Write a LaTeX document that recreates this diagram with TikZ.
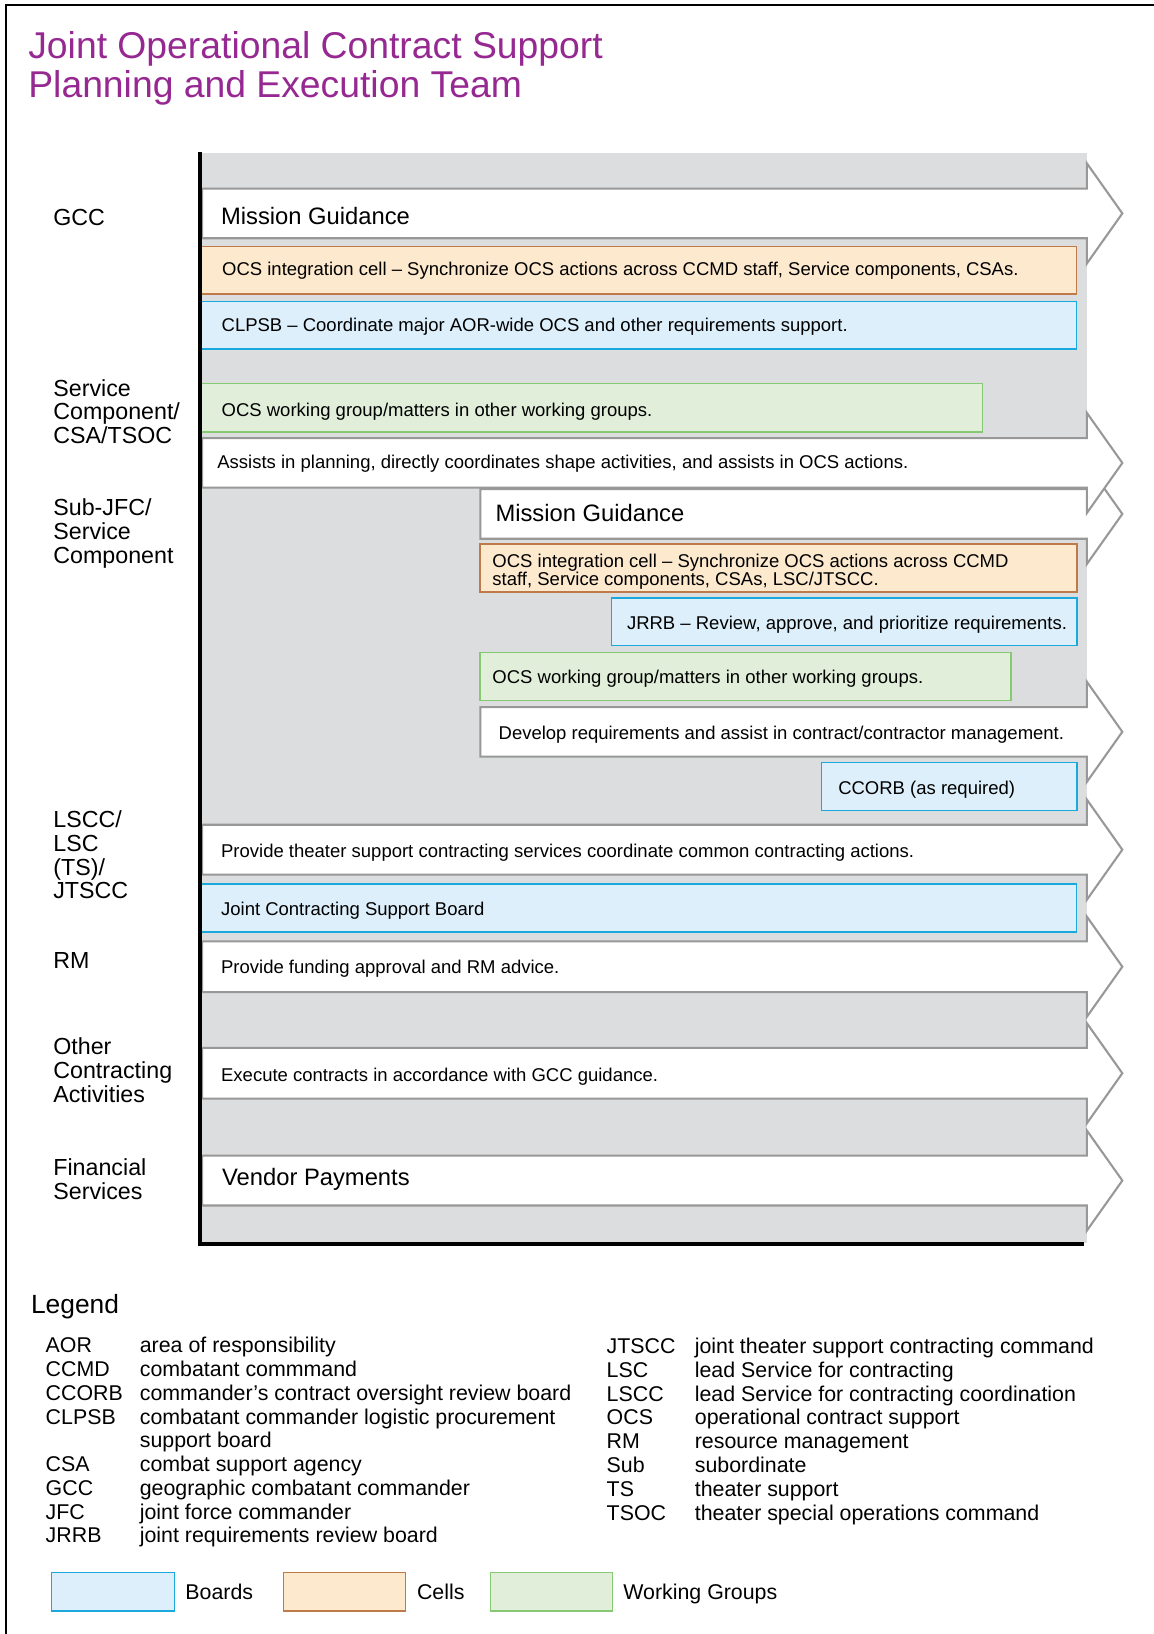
\documentclass[tikz,border=0pt]{standalone}
\usepackage{fontspec}
\setmainfont{Liberation Sans}
\definecolor{titlepurple}{RGB}{150,40,145}
\definecolor{regiongray}{RGB}{220,221,223}
\definecolor{bandline}{RGB}{152,152,152}
\definecolor{cellfill}{RGB}{253,233,206}
\definecolor{cellline}{RGB}{190,122,72}
\definecolor{boardfill}{RGB}{220,239,250}
\definecolor{boardline}{RGB}{27,168,220}
\definecolor{wgfill}{RGB}{225,239,218}
\definecolor{wgline}{RGB}{135,200,115}

% white block arrow: left x, top y, bottom y
\newcommand\bandarrow[3]{%
  \filldraw[band] (#1,#2) -- (1043,#2) -- (1043,{(#2+#3)/2-48}) -- (1077,{(#2+#3)/2})
    -- (1043,{(#2+#3)/2+48}) -- (1043,#3) -- (#1,#3) -- cycle;}

\begin{document}
\begin{tikzpicture}[x=1pt,y=-1pt,
  band/.style={fill=white,draw=bandline,line width=2pt,line join=miter},
  cellbox/.style={fill=cellfill,draw=cellline,line width=1.3pt},
  boardbox/.style={fill=boardfill,draw=boardline,line width=1.3pt},
  wgbox/.style={fill=wgfill,draw=wgline,line width=1.3pt},
  txt/.style={anchor=base west,inner sep=0,font=\fontsize{17.75}{16.3}\selectfont},
  bigtxt/.style={anchor=base west,inner sep=0,font=\fontsize{22.8}{24}\selectfont},
  lab/.style={anchor=north west,inner sep=0,align=left,font=\fontsize{22.3}{22.8}\selectfont},
  labone/.style={anchor=base west,inner sep=0,font=\fontsize{22.3}{22.8}\selectfont},
  titletxt/.style={anchor=base west,inner sep=0,text=titlepurple,font=\fontsize{35.8}{38}\selectfont},
  legtxt/.style={anchor=base west,inner sep=0,font=\fontsize{20.5}{22.8}\selectfont},
]
\useasboundingbox (0,0) rectangle (1107,1568);

% outer frame (top and left edges)
\draw[line width=2.7pt] (5.8,1575) -- (5.8,4.8) -- (1112,4.8);

% title
\node[titletxt] (title1) at (27,56) {Joint Operational Contract Support};
\node[titletxt] (title2) at (27,94) {Planning and Execution Team};

% gray region behind the swim lanes
\fill[regiongray] (193,147) rectangle (1043,1193);

% white lanes, drawn from the bottom up so upper arrow heads overlap lower ones
\bandarrow{194}{1108.9}{1156.8}
\bandarrow{194}{1005.6}{1054.2}
\bandarrow{194}{903.3}{952}
\bandarrow{194}{791.4}{839.3}
\bandarrow{461}{678.5}{726}
\bandarrow{461}{469.4}{517}
\bandarrow{194}{420.5}{468}
\bandarrow{194}{181}{228.6}

% boards, cells and working groups
\draw[cellbox]  (193.5,236.6) rectangle (1033,282);
\draw[boardbox] (193.5,289.4) rectangle (1033,335);
\draw[wgbox]    (193.5,368.3) rectangle (942.5,414.7);
\draw[cellbox]  (460.5,522) rectangle (1033.5,568);
\draw[boardbox] (587,574) rectangle (1033.5,619.7);
\draw[wgbox]    (460.5,626) rectangle (970,672.4);
\draw[boardbox] (788,731.6) rectangle (1033.5,778);
\draw[boardbox] (193.5,848.3) rectangle (1033,894.3);

% axis bars
\fill (189.8,145.5) rectangle (194.2,1196);
\fill (189.8,1192.2) rectangle (1040,1196);

% lane texts
\node[bigtxt] (mg1) at (212,215) {Mission Guidance};
\node[txt] (cell1) at (213,264) {OCS integration cell – Synchronize OCS actions across CCMD staff, Service components, CSAs.};
\node[txt] (clpsb) at (212.5,318.2) {CLPSB – Coordinate major AOR-wide OCS and other requirements support.};
\node[txt] (wg1) at (212.5,399.7) {OCS working group/matters in other working groups.};
\node[txt] (assist) at (208.4,450) {Assists in planning, directly coordinates shape activities, and assists in OCS actions.};
\node[bigtxt] (mg2) at (475.3,500) {Mission Guidance};
\node[txt,anchor=north west,align=left] (cell2) at (472.4,531.3) {OCS integration cell – Synchronize OCS actions across CCMD\\staff, Service components, CSAs, LSC/JTSCC.};
\node[txt] (jrrb) at (601.5,604.3) {JRRB – Review, approve, and prioritize requirements.};
\node[txt] (wg2) at (472.4,656) {OCS working group/matters in other working groups.};
\node[txt] (devreq) at (478.3,709.8) {Develop requirements and assist in contract/contractor management.};
\node[txt] (ccorb) at (804.2,762) {CCORB (as required)};
\node[txt] (theater) at (212,822.7) {Provide theater support contracting services coordinate common contracting actions.};
\node[txt] (jcsb) at (212,878.7) {Joint Contracting Support Board};
\node[txt] (funding) at (212,934.6) {Provide funding approval and RM advice.};
\node[txt] (execute) at (212,1037.5) {Execute contracts in accordance with GCC guidance.};
\node[bigtxt] (vendor) at (213,1137.7) {Vendor Payments};

% lane labels
\node[labone] (lgcc) at (51,216) {GCC};
\node[lab] (lsvc) at (51,363.7) {Service\\Component/\\CSA/TSOC};
\node[lab] (lsub) at (51,478.7) {Sub-JFC/\\Service\\Component};
\node[lab] (llsc) at (51,777.7) {LSCC/\\LSC\\(TS)/\\JTSCC};
\node[labone] (lrm) at (51,929) {RM};
\node[lab] (lother) at (51,995.7) {Other\\Contracting\\Activities};
\node[lab] (lfin) at (51,1111.7) {Financial\\Services};

% legend
\node[anchor=base west,inner sep=0,font=\fontsize{25.3}{27}\selectfont] (legend) at (29.6,1260.5) {Legend};
\foreach \ab/\r in {AOR/1,CCMD/2,CCORB/3,CLPSB/4,CSA/6,GCC/7,JFC/8,JRRB/9}
  \node[legtxt] (la\r) at (43.7,{1298.2+(\r-1)*22.8}) {\ab};
\foreach \df [count=\r] in {area of responsibility,combatant commmand,commander’s contract oversight review board,combatant commander logistic procurement,support board,combat support agency,geographic combatant commander,joint force commander,joint requirements review board}
  \node[legtxt] (ld\r) at (134,{1298.2+(\r-1)*22.8}) {\df};
\foreach \ab/\df [count=\r] in {JTSCC/joint theater support contracting command,LSC/lead Service for contracting,LSCC/lead Service for contracting coordination,OCS/operational contract support,RM/resource management,Sub/subordinate,TS/theater support,TSOC/theater special operations command}{
  \node[legtxt] (ra\r) at (582,{1298.8+(\r-1)*22.84}) {\ab};
  \node[legtxt] (rd\r) at (666.6,{1298.8+(\r-1)*22.84}) {\df};
}

% legend swatches
\draw[boardbox] (49.4,1509) rectangle (167.2,1546);
\node[legtxt] (kboards) at (177.7,1535) {Boards};
\draw[cellbox] (272.3,1509) rectangle (389.4,1546);
\node[legtxt] (kcells) at (400,1535) {Cells};
\draw[wgbox] (470.4,1509) rectangle (587.5,1546);
\node[legtxt] (kwg) at (598,1535) {Working Groups};
\end{tikzpicture}
\end{document}
